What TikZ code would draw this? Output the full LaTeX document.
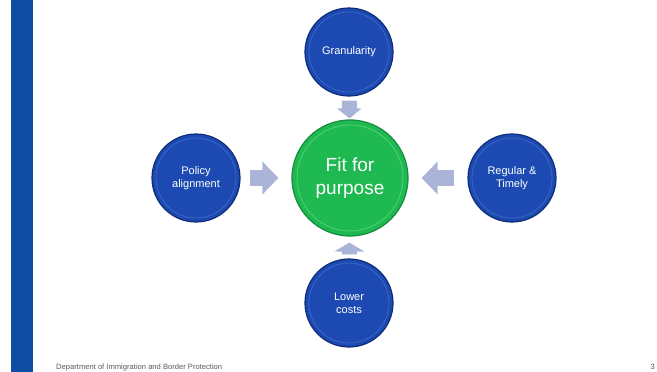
\documentclass[tikz,border=0pt]{standalone}
\usepackage{fontspec}
\setmainfont{Liberation Sans}
\usetikzlibrary{arrows.meta}

\definecolor{barblue}{RGB}{14,77,162}
\definecolor{ballblue}{RGB}{28,74,178}
\definecolor{rimblue}{RGB}{14,44,120}
\definecolor{ringblue}{RGB}{58,102,195}
\definecolor{ballgreen}{RGB}{30,185,80}
\definecolor{rimgreen}{RGB}{20,140,60}
\definecolor{ringgreen}{RGB}{75,205,110}
\definecolor{arrowfill}{RGB}{170,180,214}
\definecolor{footgray}{RGB}{90,90,90}

\begin{document}
\begin{tikzpicture}[x=1pt, y=-1pt,
    topic/.style={circle, minimum size=88pt, inner sep=0pt, align=center,
        fill=ballblue, draw=rimblue, line width=1.2pt, text=white,
        font=\fontsize{11}{13}\selectfont,
        path picture={\draw[ringblue, line width=0.8pt]
            (path picture bounding box.center) circle (40pt);}},
    goal/.style={circle, minimum size=116pt, inner sep=0pt, align=center,
        fill=ballgreen, draw=rimgreen, line width=1.2pt, text=white,
        font=\fontsize{19}{23}\selectfont,
        path picture={\draw[ringgreen, line width=1pt]
            (path picture bounding box.center) circle (53pt);}},
    blockarrow/.style={arrowfill, line width=16pt,
        -{Triangle[length=16pt, width=32pt]}},
    foot/.style={text=footgray, font=\fontsize{7.6}{8}\selectfont, inner sep=0pt}
]
    % Seite und Balken
    \useasboundingbox (0,0) rectangle (657,372);
    \fill[barblue] (11,0) rectangle (33,372);

    % Kreise
    \node[goal] (fit) at (350,178) {Fit for\\purpose};
    \node[topic] (gran) at (349,52) {Granularity};
    \node[topic] (policy) at (196,178) {Policy\\alignment};
    \node[topic] (timely) at (512,178) {Regular \&\\Timely};
    \node[topic] (costs) at (349,303) {Lower\\costs};

    % Pfeile zur Mitte
    \draw[blockarrow, line width=15pt, -{Triangle[length=10pt, width=24pt]},
        shorten <=4pt, shorten >=1pt] (gran) -- (fit);
    \draw[blockarrow, shorten <=9pt, shorten >=13pt] (policy) -- (fit);
    \draw[blockarrow, shorten <=13pt, shorten >=13pt] (timely) -- (fit);
    \draw[blockarrow, line width=15pt, -{Triangle[length=9pt, width=30pt]},
        shorten <=4pt, shorten >=6pt] (costs) -- (fit);

    % Fusszeile
    \node[foot, anchor=base west] (dept) at (56,369) {Department of Immigration and Border Protection};
    \node[foot, anchor=base east] (page) at (655,369) {3};
\end{tikzpicture}
\end{document}
